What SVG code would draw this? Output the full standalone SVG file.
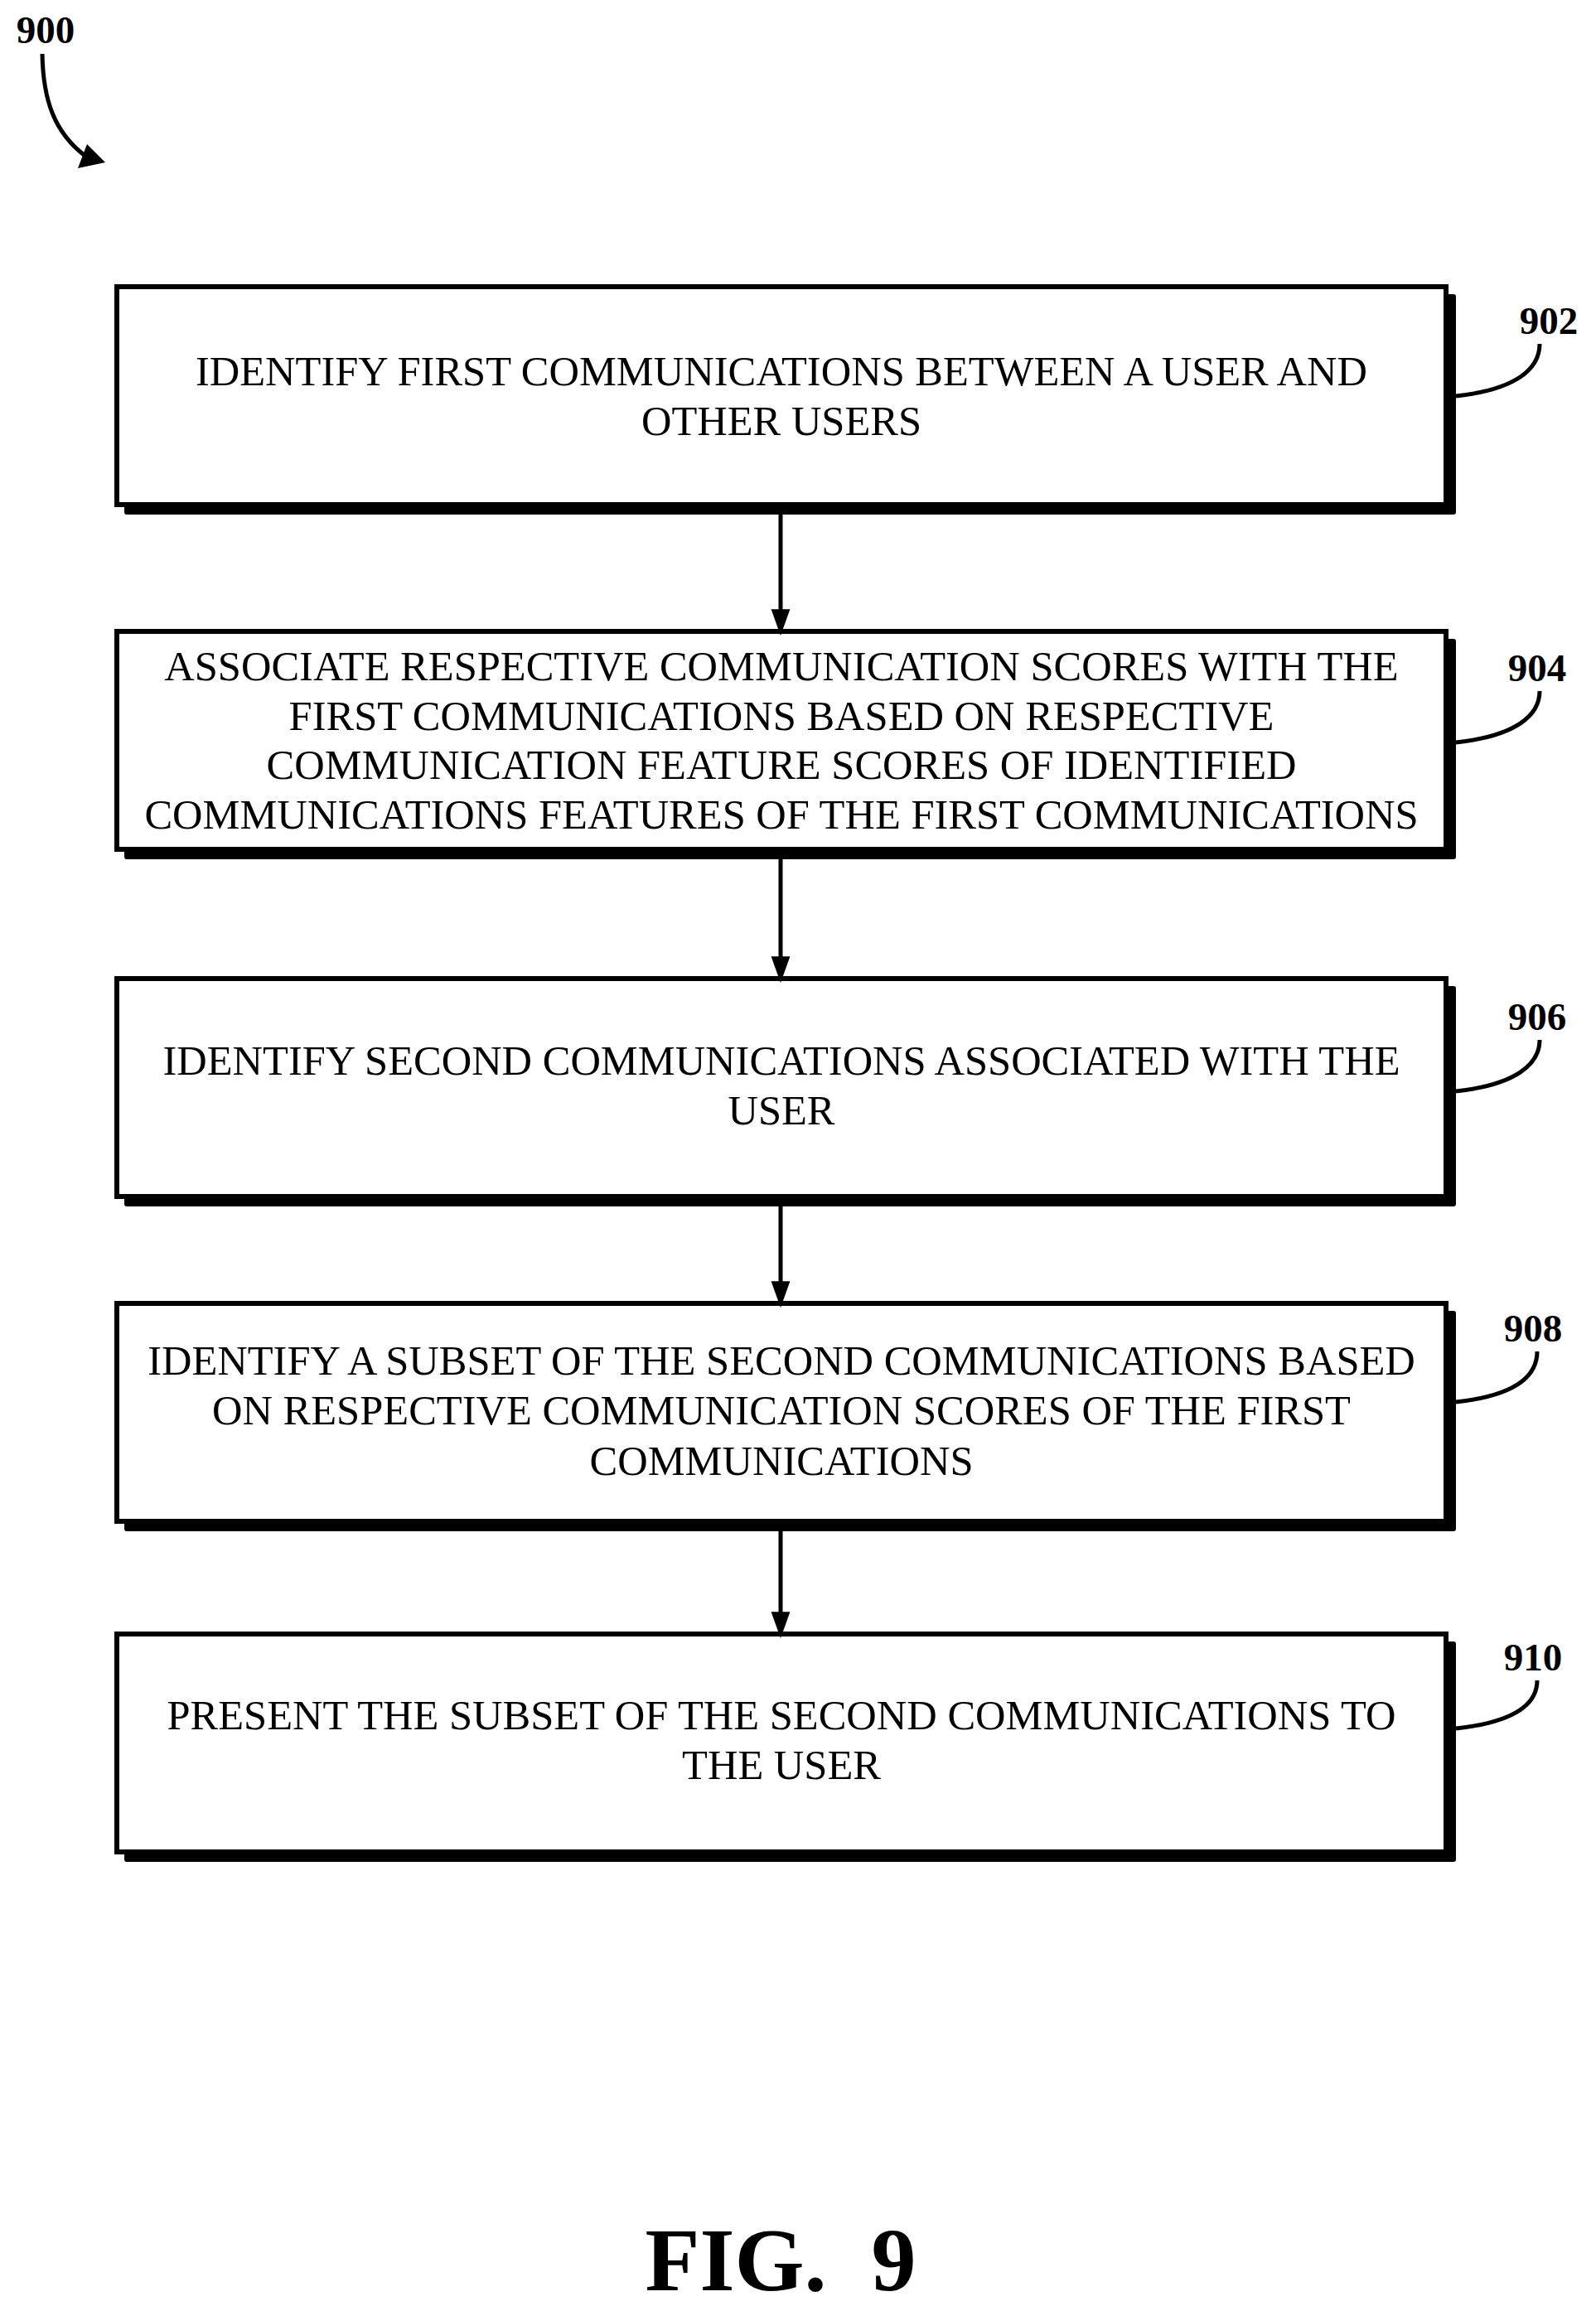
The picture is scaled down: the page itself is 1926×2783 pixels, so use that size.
<svg xmlns="http://www.w3.org/2000/svg" width="1926" height="2783" viewBox="0 0 1926 2783">
<style>
.box{fill:#fff;stroke:#000;stroke-width:6}
.sh{fill:#000}
.t{font-family:"Liberation Serif","Times New Roman",serif;font-size:50.5px;text-anchor:middle;fill:#000}
.lbl{font-family:"Liberation Serif","Times New Roman",serif;font-size:47px;font-weight:bold;text-anchor:middle;fill:#000}
.ld{fill:none;stroke:#000;stroke-width:5}
.cn{stroke:#000;stroke-width:5}
</style>
<defs>
<marker id="ah" markerUnits="userSpaceOnUse" markerWidth="32" markerHeight="44" refX="30" refY="15" orient="auto" viewBox="0 0 42 30">
<path d="M0,0 L42,15 L0,30 Z" fill="#000"/>
</marker>
</defs>
<rect width="1926" height="2783" fill="#fff"/>
<g id="n900">
<text class="lbl" x="55" y="52">900</text>
<path class="ld" d="M51,65 C52,120 65,160 104,189"/>
<polygon points="94,203 105,174 127,196" fill="#000"/>
</g>
<g id="n902">
<rect class="sh" x="150" y="355" width="1607" height="266" rx="3"/>
<rect class="box" x="141" y="346" width="1604" height="263"/>
<text class="t" x="943" y="465">IDENTIFY FIRST COMMUNICATIONS BETWEEN A USER AND</text>
<text class="t" x="943" y="525">OTHER USERS</text>
<text class="lbl" x="1869" y="403">902</text>
<path class="ld" d="M1757,478 C1830,470 1858,445 1858,415"/>
</g>
<g id="n904">
<rect class="sh" x="150" y="771" width="1607" height="266" rx="3"/>
<rect class="box" x="141" y="762" width="1604" height="263"/>
<text class="t" x="943" y="821">ASSOCIATE RESPECTIVE COMMUNICATION SCORES WITH THE</text>
<text class="t" x="943" y="881">FIRST COMMUNICATIONS BASED ON RESPECTIVE</text>
<text class="t" x="943" y="940">COMMUNICATION FEATURE SCORES OF IDENTIFIED</text>
<text class="t" x="943" y="1000">COMMUNICATIONS FEATURES OF THE FIRST COMMUNICATIONS</text>
<text class="lbl" x="1855" y="822">904</text>
<path class="ld" d="M1757,896 C1830,888 1858,863 1858,834"/>
</g>
<g id="n906">
<rect class="sh" x="150" y="1190" width="1607" height="266" rx="3"/>
<rect class="box" x="141" y="1181" width="1604" height="263"/>
<text class="t" x="943" y="1297">IDENTIFY SECOND COMMUNICATIONS ASSOCIATED WITH THE</text>
<text class="t" x="943" y="1357">USER</text>
<text class="lbl" x="1855" y="1243">906</text>
<path class="ld" d="M1757,1317 C1830,1309 1858,1284 1858,1255"/>
</g>
<g id="n908">
<rect class="sh" x="150" y="1582" width="1607" height="266" rx="3"/>
<rect class="box" x="141" y="1573" width="1604" height="263"/>
<text class="t" x="943" y="1659">IDENTIFY A SUBSET OF THE SECOND COMMUNICATIONS BASED</text>
<text class="t" x="943" y="1719">ON RESPECTIVE COMMUNICATION SCORES OF THE FIRST</text>
<text class="t" x="943" y="1780">COMMUNICATIONS</text>
<text class="lbl" x="1850" y="1619">908</text>
<path class="ld" d="M1757,1692 C1830,1684 1855,1660 1855,1631"/>
</g>
<g id="n910">
<rect class="sh" x="150" y="1981" width="1607" height="266" rx="3"/>
<rect class="box" x="141" y="1972" width="1604" height="263"/>
<text class="t" x="943" y="2087">PRESENT THE SUBSET OF THE SECOND COMMUNICATIONS TO</text>
<text class="t" x="943" y="2147">THE USER</text>
<text class="lbl" x="1850" y="2016">910</text>
<path class="ld" d="M1757,2086 C1830,2078 1855,2055 1855,2028"/>
</g>
<g id="connectors">
<line class="cn" x1="942" y1="621" x2="942" y2="758" marker-end="url(#ah)"/>
<line class="cn" x1="942" y1="1037" x2="942" y2="1177" marker-end="url(#ah)"/>
<line class="cn" x1="942" y1="1456" x2="942" y2="1569" marker-end="url(#ah)"/>
<line class="cn" x1="942" y1="1848" x2="942" y2="1968" marker-end="url(#ah)"/>
</g>
<text x="942" y="2764" xml:space="preserve" style="font-family:'Liberation Serif','Times New Roman',serif;font-size:108px;font-weight:bold;text-anchor:middle">FIG.  9</text>
</svg>
